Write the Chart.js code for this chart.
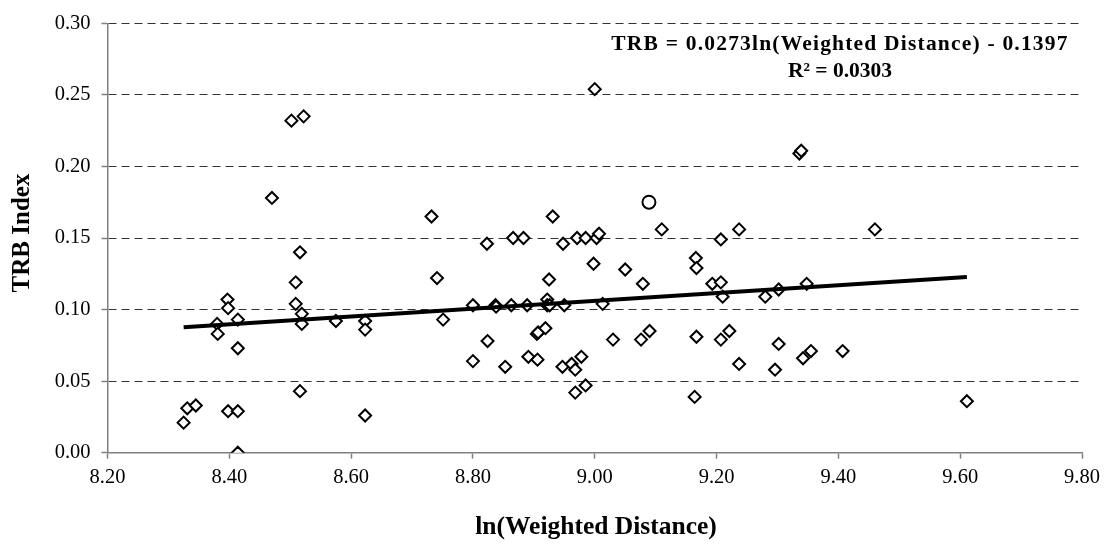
<!DOCTYPE html>
<html>
<head>
<meta charset="utf-8">
<script src="https://cdn.jsdelivr.net/npm/chart.js@4.4.1/dist/chart.umd.min.js"></script>
<style>
  html, body { margin: 0; padding: 0; background: #ffffff; }
  #wrap { position: relative; width: 1108px; height: 544px; }
</style>
</head>
<body>
<div id="wrap"><canvas id="c" width="1108" height="544"></canvas></div>
<script>
// ---- data ----
const distX = [
  8.325, 8.331, 8.345, 8.380, 8.381, 8.397, 8.398, 8.398, 8.414, 8.414,
  8.414, 8.414, 8.470, 8.502, 8.522, 8.509, 8.509, 8.516, 8.519, 8.519,
  8.516, 8.575, 8.623, 8.623, 8.623, 8.732, 8.741, 8.751, 8.800, 8.800,
  8.823, 8.824, 8.837, 8.838, 8.853, 8.863, 8.866, 8.883, 8.889, 8.891,
  8.905, 8.907, 8.906, 8.919, 8.922, 8.922, 8.926, 8.925, 8.931, 8.948,
  8.950, 8.947, 8.962, 8.968, 8.978, 8.968, 8.985, 8.971, 8.985, 8.998,
  9.000, 9.003, 9.007, 9.013, 9.030, 9.050, 9.076, 9.079, 9.090, 9.110,
  9.166, 9.167, 9.167, 9.164, 9.193, 9.207, 9.207, 9.210, 9.207, 9.221,
  9.237, 9.237, 9.280, 9.296, 9.302, 9.302, 9.336, 9.339, 9.342, 9.348,
  9.355, 9.407, 9.460, 9.611
];
const trbIndex = [
  0.021, 0.031, 0.033, 0.090, 0.083, 0.107, 0.101, 0.029, 0.093, 0.073,
  0.029, 0.000, 0.178, 0.232, 0.235, 0.119, 0.104, 0.140, 0.097, 0.090,
  0.043, 0.092, 0.092, 0.086, 0.026, 0.165, 0.122, 0.093, 0.103, 0.064,
  0.146, 0.078, 0.103, 0.102, 0.060, 0.103, 0.150, 0.150, 0.103, 0.067,
  0.083, 0.084, 0.065, 0.087, 0.107, 0.103, 0.103, 0.121, 0.165, 0.146,
  0.103, 0.060, 0.062, 0.058, 0.067, 0.042, 0.047, 0.150, 0.150, 0.132,
  0.254, 0.150, 0.153, 0.104, 0.079, 0.128, 0.079, 0.118, 0.085, 0.156,
  0.136, 0.129, 0.081, 0.039, 0.118, 0.119, 0.149, 0.109, 0.079, 0.085,
  0.156, 0.062, 0.109, 0.058, 0.114, 0.076, 0.209, 0.211, 0.066, 0.118,
  0.071, 0.071, 0.156, 0.036
];
const circleX = [9.089];
const circleY = [0.175];
const trendX = [8.325, 9.611];
const trendY = [0.0876, 0.1227];
const xTickLabels = ['8.20', '8.40', '8.60', '8.80', '9.00', '9.20', '9.40', '9.60', '9.80'];
const yTickLabels = ['0.00', '0.05', '0.10', '0.15', '0.20', '0.25', '0.30'];
const xTitle = 'ln(Weighted Distance)';
const yTitle = 'TRB Index';
const eqLine1 = 'TRB = 0.0273ln(Weighted Distance) - 0.1397';
const eqLine2 = 'R\u00B2 = 0.0303';

const pts = (xs, ys) => xs.map((x, i) => ({ x: x, y: ys[i] }));
const SERIF = "'Liberation Serif', 'Times New Roman', serif";

const textPlugin = {
  id: 'texts',
  afterDraw(chart) {
    const ctx = chart.ctx;
    ctx.save();
    ctx.fillStyle = '#000';
    // y title
    ctx.save();
    ctx.translate(23, 233);
    ctx.rotate(-Math.PI / 2);
    ctx.font = 'bold 25px ' + SERIF;
    ctx.textAlign = 'center';
    ctx.textBaseline = 'middle';
    ctx.fillText(yTitle, 0, 0);
    ctx.restore();
    // x title
    ctx.font = 'bold 25.5px ' + SERIF;
    ctx.textAlign = 'center';
    ctx.textBaseline = 'middle';
    ctx.fillText(xTitle, 596, 527);
    // equation
    ctx.font = 'bold 21.5px ' + SERIF;
    ctx.textBaseline = 'alphabetic';
    ctx.textAlign = 'center';
    try { ctx.letterSpacing = '1.2px'; } catch (e) {}
    ctx.fillText(eqLine1, 840, 50);
    try { ctx.letterSpacing = '0px'; } catch (e) {}
    ctx.fillText(eqLine2, 840, 77);
    ctx.restore();
  }
};

new Chart(document.getElementById('c'), {
  type: 'scatter',
  data: {
    datasets: [
      {
        type: 'line',
        data: pts(trendX, trendY),
        borderColor: '#000',
        borderWidth: 4,
        pointRadius: 0,
        fill: false,
        tension: 0
      },
      {
        data: pts(circleX, circleY),
        pointStyle: 'circle',
        pointRadius: 6.5,
        pointBorderWidth: 2,
        pointBorderColor: '#000',
        pointBackgroundColor: '#fff'
      },
      {
        data: pts(distX, trbIndex),
        pointStyle: 'rectRot',
        pointRadius: 6,
        pointBorderWidth: 2,
        pointBorderColor: '#000',
        pointBackgroundColor: '#fff'
      }
    ]
  },
  options: {
    responsive: false,
    animation: false,
    devicePixelRatio: 1,
    layout: { padding: { top: 21, right: 26, left: 0, bottom: 0 } },
    plugins: { legend: { display: false }, tooltip: { enabled: false } },
    scales: {
      x: {
        type: 'linear',
        min: 8.2, max: 9.8,
        afterFit(s) { s.height = 91.3; },
        ticks: {
          stepSize: 0.2,
          color: '#000',
          padding: 7,
          maxRotation: 0,
          autoSkip: false,
          font: { family: SERIF, size: 20.5 },
          callback: (v, i) => xTickLabels[i]
        },
        grid: {
          drawOnChartArea: false,
          drawTicks: true,
          tickLength: 6,
          tickColor: '#808080',
          tickWidth: 1.5
        },
        border: { display: true, color: '#808080', width: 1.5 }
      },
      y: {
        type: 'linear',
        min: 0, max: 0.3,
        afterFit(s) { s.width = 107.5; },
        ticks: {
          stepSize: 0.05,
          color: '#000',
          padding: 11,
          font: { family: SERIF, size: 20.5 },
          callback: (v, i) => yTickLabels[i]
        },
        grid: {
          drawTicks: true,
          tickLength: 6,
          tickColor: '#808080',
          tickWidth: 1.5,
          tickBorderDash: [],
          lineWidth: 1,
          color: (c) => (c.tick && c.tick.value === 0) ? 'rgba(0,0,0,0)' : '#333'
        },
        border: { display: true, color: '#808080', width: 1.5, dash: [8, 5] }
      }
    }
  },
  plugins: [textPlugin]
});
</script>
</body>
</html>
